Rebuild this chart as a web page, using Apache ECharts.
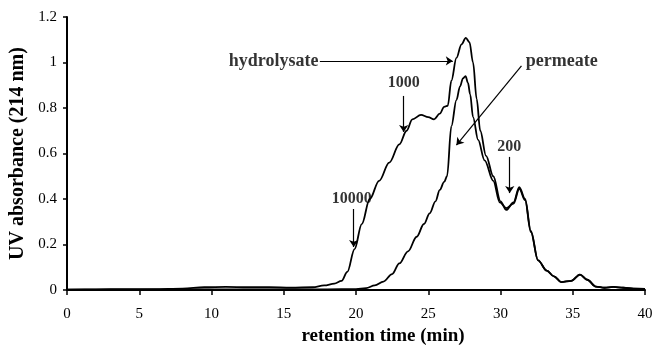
<!DOCTYPE html>
<html>
<head>
<meta charset="utf-8">
<title>retention time</title>
<script src="https://cdn.jsdelivr.net/npm/echarts@6/dist/echarts.min.js"></script>
<style>
    html, body { margin: 0; padding: 0; background: #fff; }
    #chart { width: 654px; height: 345px; }
</style>
</head>
<body>
<div id="chart"></div>
<script>
    // hydrolysate curve (retention time, absorbance)
    var hydroX = [0, 2, 4, 6, 8, 9.5, 11, 12.5, 14, 15.5, 17, 17.8, 18.5, 19.0, 19.4, 19.9, 20.4, 20.95, 21.6, 22.3,
        23.0, 23.5, 23.9, 24.5, 25.0, 25.4, 25.8, 26.1, 26.35, 26.6, 26.95, 27.3, 27.6, 27.85, 28.1, 28.35, 28.6,
        29.0, 29.5, 30.0, 30.4, 30.9, 31.3, 31.7, 32.1, 32.6, 33.2, 33.7, 34.2, 34.9, 35.5, 36.0, 36.6, 37.2,
        37.8, 38.5, 39.2, 40];
    var hydroY = [0.002, 0.003, 0.004, 0.004, 0.006, 0.012, 0.014, 0.012, 0.012, 0.01, 0.012, 0.02, 0.028, 0.04,
        0.08, 0.18, 0.29, 0.40, 0.48, 0.56, 0.64, 0.70, 0.75, 0.77, 0.76, 0.75, 0.775, 0.805, 0.81, 0.92, 1.02,
        1.08, 1.108, 1.09, 1.0, 0.84, 0.70, 0.59, 0.50, 0.39, 0.352, 0.385, 0.452, 0.40, 0.26, 0.13, 0.085, 0.06,
        0.035, 0.04, 0.068, 0.045, 0.015, 0.01, 0.014, 0.01, 0.006, 0.005];

    // permeate curve
    var permX = [0, 5, 10, 15, 18, 20, 20.7, 21.3, 21.9, 22.5, 23.0, 23.6, 24.2, 24.7, 25.1, 25.5, 25.8, 26.1,
        26.3, 26.6, 26.95, 27.2, 27.4, 27.58, 27.75, 27.9, 28.1, 28.45, 28.9, 29.5, 29.95, 30.4, 30.9, 31.3, 31.7,
        32.1, 32.6, 33.2, 33.7, 34.2, 34.9, 35.5, 36.0, 36.6, 37.2, 37.8, 38.5, 39.2, 40];
    var permY = [0.002, 0.002, 0.003, 0.003, 0.003, 0.004, 0.008, 0.02, 0.037, 0.07, 0.117, 0.17, 0.234, 0.29,
        0.337, 0.39, 0.44, 0.475, 0.50, 0.72, 0.835, 0.895, 0.93, 0.94, 0.91, 0.86, 0.76, 0.66, 0.57, 0.48, 0.385,
        0.36, 0.38, 0.445, 0.395, 0.255, 0.13, 0.085, 0.06, 0.035, 0.04, 0.068, 0.045, 0.015, 0.01, 0.014, 0.01,
        0.006, 0.005];

    // annotation arrows: start -> end, in data units
    var arrowFrom = [[17.5, 1.007], [23.3, 0.853], [19.84, 0.356], [31.45, 0.985], [30.64, 0.585]];
    var arrowTo = [[26.7, 1.007], [23.3, 0.695], [19.84, 0.189], [26.95, 0.637], [30.64, 0.426]];

    // annotation texts
    var annText = ['hydrolysate', '1000', '10000', 'permeate', '200'];
    var annPos = [[17.4, 1.007], [23.3, 0.91], [19.7, 0.40], [31.75, 1.007], [30.6, 0.63]];
    var annAlign = ['right', 'center', 'center', 'left', 'center'];
    var annSize = [18, 16, 16, 18, 16];

    var serif = '"Liberation Serif", "DejaVu Serif", serif';

    function pairs(xs, ys) {
        var out = [];
        for (var i = 0; i < xs.length; i++) out.push([xs[i], ys[i]]);
        return out;
    }

    var arrowData = [];
    for (var i = 0; i < arrowFrom.length; i++) {
        arrowData.push([{ coord: arrowFrom[i] }, { coord: arrowTo[i] }]);
    }

    var labelData = [];
    for (var j = 0; j < annText.length; j++) {
        labelData.push({
            value: annPos[j],
            name: annText[j],
            label: { align: annAlign[j], fontSize: annSize[j] }
        });
    }

    var lineStyle = { color: '#000', width: 1.8 };

    var myChart = echarts.init(document.getElementById('chart'));
    myChart.setOption({
        animation: false,
        grid: { left: 67, right: 9, top: 17, bottom: 55, containLabel: false, outerBoundsMode: 'none' },
        xAxis: {
            type: 'value',
            min: 0,
            max: 40,
            interval: 5,
            name: 'retention time (min)',
            nameLocation: 'middle',
            nameGap: 34,
            nameTextStyle: {
                fontFamily: serif, fontWeight: 'bold', fontSize: 19, color: '#000',
                padding: [0, 0, 0, 54]
            },
            axisLine: { lineStyle: { color: '#000', width: 2 } },
            axisTick: { show: true, length: 5, lineStyle: { color: '#000', width: 1.5 } },
            axisLabel: { fontFamily: serif, fontSize: 15, color: '#000', margin: 17 },
            splitLine: { show: false }
        },
        yAxis: {
            type: 'value',
            min: 0,
            max: 1.2,
            interval: 0.2,
            name: 'UV absorbance (214 nm)',
            nameLocation: 'middle',
            nameGap: 36,
            nameRotate: 90,
            nameTextStyle: { fontFamily: serif, fontWeight: 'bold', fontSize: 20, color: '#000' },
            axisLine: { show: true, lineStyle: { color: '#000', width: 2 } },
            axisTick: { show: true, length: 4, lineStyle: { color: '#000', width: 1.5 } },
            axisLabel: { fontFamily: serif, fontSize: 15, color: '#000', margin: 10 },
            splitLine: { show: false }
        },
        series: [
            {
                name: 'hydrolysate',
                type: 'line',
                data: pairs(hydroX, hydroY),
                smooth: 0.35,
                smoothMonotone: 'x',
                showSymbol: false,
                lineStyle: lineStyle,
                markLine: {
                    silent: true,
                    symbol: ['none', 'arrow'],
                    symbolSize: 7,
                    label: { show: false },
                    lineStyle: { color: '#000', width: 1.2, type: 'solid' },
                    data: arrowData
                }
            },
            {
                name: 'permeate',
                type: 'line',
                data: pairs(permX, permY),
                smooth: 0.35,
                smoothMonotone: 'x',
                showSymbol: false,
                lineStyle: lineStyle
            },
            {
                name: 'labels',
                type: 'scatter',
                symbolSize: 0,
                silent: true,
                data: labelData,
                label: {
                    show: true,
                    position: 'inside',
                    formatter: '{b}',
                    fontFamily: serif,
                    fontWeight: 'bold',
                    color: '#000',
                    verticalAlign: 'middle'
                }
            }
        ]
    });
</script>
</body>
</html>
